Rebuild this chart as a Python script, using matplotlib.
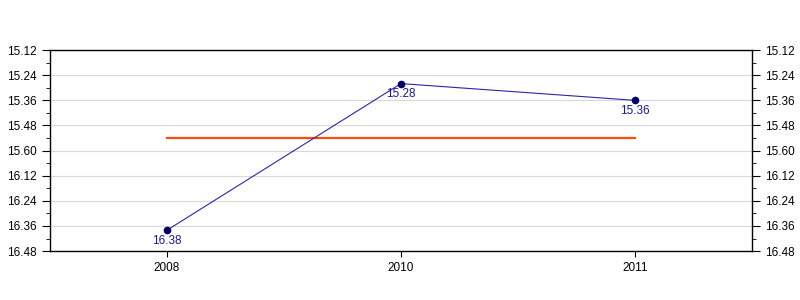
import matplotlib.pyplot as plt
from matplotlib.ticker import FixedLocator

plt.rcParams['font.family'] = ['Liberation Sans', 'DejaVu Sans']

# times stored as seconds, labels shown as min.sec like the original
years = ["2008", "2010", "2011"]
times = [998, 928, 936]
time_labels = ["16.38", "15.28", "15.36"]
average = 954

ytick_values = [912, 924, 936, 948, 960, 972, 984, 996, 1008]
ytick_labels = ["15.12", "15.24", "15.36", "15.48", "15.60",
                "16.12", "16.24", "16.36", "16.48"]
yminor_values = [918, 930, 942, 954, 966, 978, 990, 1002]

fig = plt.figure(figsize=(8, 3), dpi=100)
ax = fig.add_axes([0.0625, 0.163, 0.8775, 0.67])

x = list(range(len(years)))
ax.plot(x, times, color="#2828a8", linewidth=0.8, zorder=3)
ax.plot(x, times, "o", color="#000066", markersize=4.5, zorder=4)
ax.plot([x[0], x[-1]], [average, average], color="#ff4a10", linewidth=1.6, zorder=2)

for xi, t, lab in zip(x, times, time_labels):
    ax.annotate(lab, (xi, t), xytext=(0, -3.5), textcoords="offset points",
                ha="center", va="top", color="#1a1a99", fontsize=8.5)

ax.set_xlim(-0.5, 2.5)
ax.set_ylim(1008, 912)
ax.set_xticks(x)
ax.set_xticklabels(years)
ax.set_yticks(ytick_values)
ax.set_yticklabels(ytick_labels)
ax.yaxis.set_minor_locator(FixedLocator(yminor_values))
ax.tick_params(axis="y", which="major", length=6, labelsize=8.5,
               right=True, labelright=True, direction="out")
ax.tick_params(axis="y", which="minor", length=3, right=True, direction="out")
ax.tick_params(axis="x", length=4, labelsize=8.5, direction="out")
ax.grid(axis="y", color="#d8d8d8", linewidth=0.8)
ax.set_axisbelow(True)
for side in ["left", "right", "bottom", "top"]:
    ax.spines[side].set_linewidth(1)
    ax.spines[side].set_color("black")

fig.savefig("out.png", dpi=100)
